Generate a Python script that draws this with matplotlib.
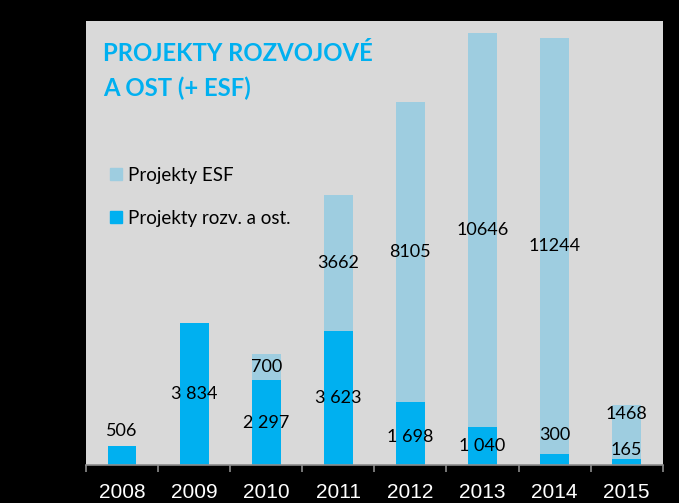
import matplotlib.pyplot as plt
from matplotlib.patches import Patch
import numpy as np

years = ['2008', '2009', '2010', '2011', '2012', '2013', '2014', '2015']
rozv = [506, 3834, 2297, 3623, 1698, 1040, 300, 165]
esf = [0, 0, 700, 3662, 8105, 10646, 11244, 1468]

c_rozv = '#00b0f0'
c_esf = '#9ecde0'
bg = '#d9d9d9'
lab_font = 'Lato'
lab_size = 13

# label lift (pixels) above short bars, as placed in the original
lift = {0: 15, 6: 19, 7: 9}


def fmt_space(v):
    return '{:,}'.format(v).replace(',', ' ')


fig = plt.figure(figsize=(6.79, 5.03), dpi=100, facecolor='black')
ax = fig.add_axes([0.1267, 0.0755, 0.8493, 0.8828])
ax.set_facecolor(bg)

x = np.arange(len(years))
w = 0.4
ax.bar(x, rozv, w, color=c_rozv, zorder=2)
ax.bar(x, esf, w, bottom=rozv, color=c_esf, zorder=2)

ax.set_xlim(-0.5, len(years) - 0.5)
ax.set_ylim(0, 12000)

px = 72 / 100  # points per pixel

# labels for the lower series
for i, v in enumerate(rozv):
    if i in lift:
        ax.annotate(fmt_space(v), (x[i], v), xytext=(0, lift[i] * px),
                    textcoords='offset points', ha='center', va='center',
                    fontsize=lab_size, family=lab_font, zorder=3)
    else:
        dy = -3 if i == 4 else 0
        ax.annotate(fmt_space(v), (x[i], v / 2), xytext=(0, dy * px),
                    textcoords='offset points', ha='center', va='center',
                    fontsize=lab_size, family=lab_font, zorder=3)

# labels for ESF
for i, v in enumerate(esf):
    if v == 0:
        continue
    if v < 2000 and v > 1000:
        ax.annotate(str(v), (x[i], rozv[i] + v), xytext=(0, -9 * px),
                    textcoords='offset points', ha='center', va='center',
                    fontsize=lab_size, family=lab_font, zorder=3)
    else:
        ax.text(x[i], rozv[i] + v / 2, str(v), ha='center', va='center',
                fontsize=lab_size, family=lab_font, zorder=3)

for s in ['left', 'right', 'top']:
    ax.spines[s].set_visible(False)
ax.spines['bottom'].set_color('#8c8c8c')
ax.spines['bottom'].set_linewidth(1.2)
ax.set_yticks([])

ax.set_xticks(np.arange(-0.5, len(years)), minor=False)
ax.set_xticklabels([])
ax.tick_params(axis='x', which='major', length=5, color='#8c8c8c', width=1.2)
ax.set_xticks(x, minor=True)
ax.set_xticklabels(years, minor=True)
ax.tick_params(axis='x', which='minor', length=0, pad=13, labelcolor='white',
               labelsize=15)
for t in ax.get_xticklabels(minor=True):
    t.set_family('Liberation Sans')

ax.text(0.03, 0.952, 'PROJEKTY ROZVOJOVÉ\nA OST (+ ESF)', transform=ax.transAxes,
        ha='left', va='top', color=c_rozv, fontsize=17.2, fontweight='bold',
        family=lab_font, linespacing=1.55)

handles = [Patch(color=c_esf, label='Projekty ESF'),
           Patch(color=c_rozv, label='Projekty rozv. a ost.')]
leg = ax.legend(handles=handles, loc='upper left', bbox_to_anchor=(0.012, 0.71),
                frameon=False, prop={'family': lab_font, 'size': 13.5},
                handlelength=0.64, handleheight=0.64, handletextpad=0.35,
                labelspacing=1.4)

fig.savefig('out.png', dpi=100, facecolor='black')
